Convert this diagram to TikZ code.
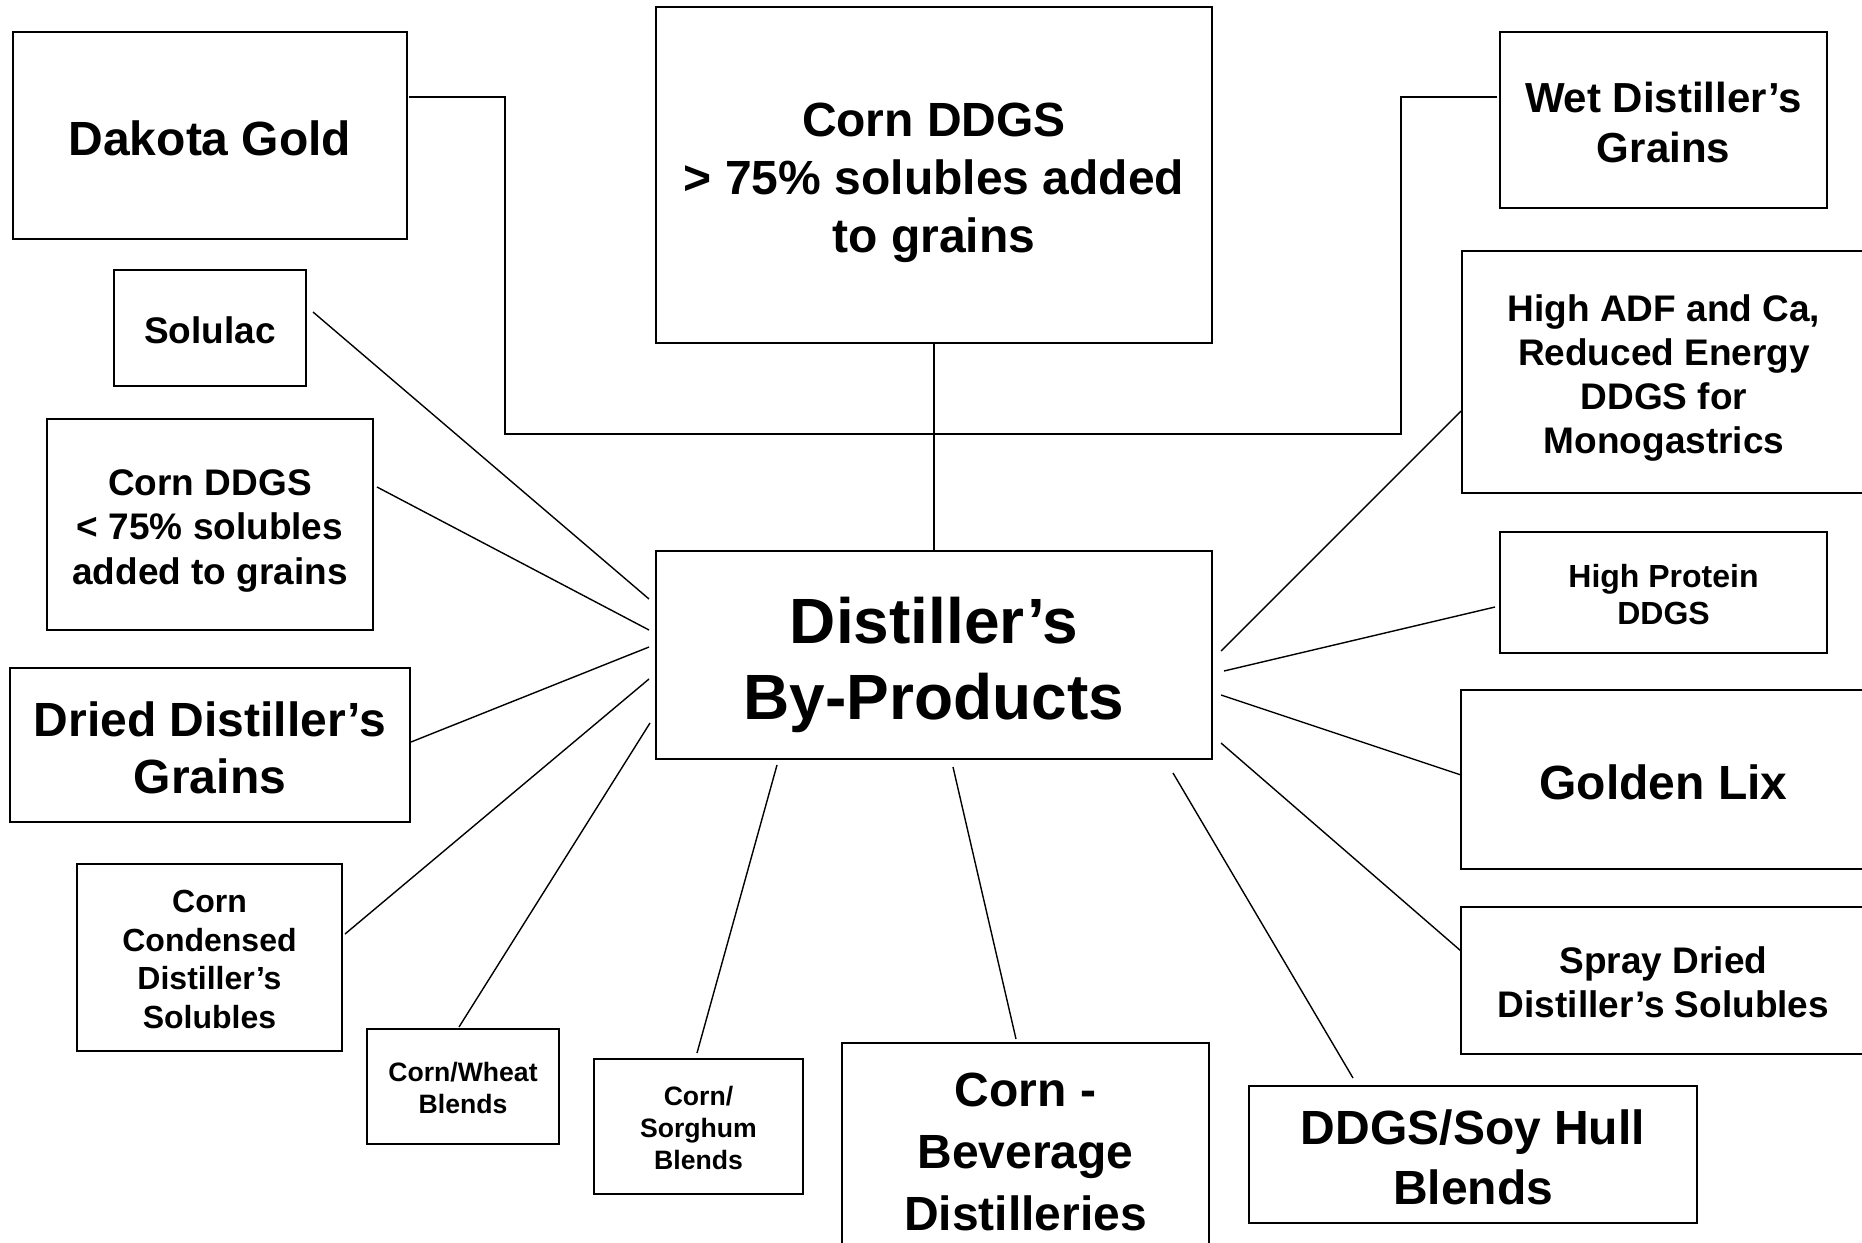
\documentclass[tikz,border=0pt]{standalone}
\usepackage{fontspec}
\setmainfont{Liberation Sans}
\newcommand\tA{\vrule height 1.03em depth 0pt width 0pt}
\newcommand\tB{\vrule height 0pt depth 0.21em width 0pt}
\begin{document}
\begin{tikzpicture}[x=0.5pt,y=-0.5pt,
  box/.style={draw, line width=1pt, rectangle, inner sep=0pt, outer sep=0pt, align=center},
  link/.style={line width=0.7pt},
  bar/.style={line width=1pt}]
\useasboundingbox (0,0) rectangle (1862,1242);
\clip (0,0) rectangle (1862,1242);
\fill[white] (0,0) rectangle (1862,1242);

% boxes
\node[box, minimum width=197pt, minimum height=103.5pt, font=\bfseries\fontsize{24pt}{29pt}\selectfont] (dakota) at (210,135.5) {\tA Dakota Gold\tB};
\node[box, minimum width=278pt, minimum height=168pt, font=\bfseries\fontsize{24pt}{29pt}\selectfont] (cddgsA) at (934,175) {\tA Corn DDGS\\> 75\% solubles added\\to grains\tB};
\node[box, minimum width=163.5pt, minimum height=88pt, font=\bfseries\fontsize{21pt}{25pt}\selectfont] (wet) at (1663.5,120) {\tA Wet Distiller’s\\Grains\tB};
\node[box, minimum width=96pt, minimum height=58pt, font=\bfseries\fontsize{18.5pt}{22pt}\selectfont] (solulac) at (210,328) {\tA Solulac\tB};
\node[box, minimum width=202pt, minimum height=121pt, font=\bfseries\fontsize{18.5pt}{22pt}\selectfont] (highadf) at (1664,372) {\tA High ADF and Ca,\\Reduced Energy\\DDGS for\\Monogastrics\tB};
\node[box, minimum width=163pt, minimum height=105.5pt, font=\bfseries\fontsize{18.5pt}{22.3pt}\selectfont] (cddgsB) at (210,524.5) {\tA Corn DDGS\\< 75\% solubles\\added to grains\tB};
\node[box, minimum width=278pt, minimum height=104pt, font=\bfseries\fontsize{32pt}{38pt}\selectfont] (cen) at (934,655) {\tA Distiller’s\\By-Products\tB};
\node[box, minimum width=163.5pt, minimum height=60.5pt, font=\bfseries\fontsize{16pt}{18.5pt}\selectfont] (hiprot) at (1663.5,592.5) {\tA High Protein\\DDGS\tB};
\node[box, minimum width=200pt, minimum height=77pt, font=\bfseries\fontsize{24pt}{28.5pt}\selectfont] (dried) at (210,745) {\tA Dried Distiller’s\\Grains\tB};
\node[box, minimum width=202.5pt, minimum height=89.5pt, font=\bfseries\fontsize{24pt}{29pt}\selectfont] (goldenlix) at (1663.5,779.5) {\tA Golden Lix\tB};
\node[box, minimum width=132.5pt, minimum height=93.5pt, font=\bfseries\fontsize{16pt}{19.25pt}\selectfont] (ccds) at (209.5,957.5) {\tA Corn\\Condensed\\Distiller’s\\Solubles\tB};
\node[box, minimum width=202.5pt, minimum height=73.5pt, font=\bfseries\fontsize{18.5pt}{22pt}\selectfont] (spray) at (1663.5,980.5) {\tA Spray Dried\\Distiller’s Solubles\tB};
\node[box, minimum width=96pt, minimum height=57.5pt, font=\bfseries\fontsize{13.3pt}{16pt}\selectfont] (cornwheat) at (463,1086.5) {\tA Corn/Wheat\\Blends\tB};
\node[box, minimum width=104.5pt, minimum height=67.5pt, font=\bfseries\fontsize{13.3pt}{16pt}\selectfont] (cornsorghum) at (698.5,1126.5) {\tA Corn/\\Sorghum\\Blends\tB};
\node[box, minimum width=183.5pt, minimum height=106pt, font=\bfseries\fontsize{24pt}{31pt}\selectfont] (cornbev) at (1025.5,1149) {\tA Corn -\\Beverage\\Distilleries\tB};
\node[box, minimum width=224pt, minimum height=68.5pt, font=\bfseries\fontsize{24pt}{30pt}\selectfont] (ddgssoy) at (1473,1154.5) {\tA DDGS/Soy Hull\\Blends\tB};

% bracket connector
\coordinate (barL) at (505,434);
\coordinate (barR) at (1401,434);
\draw[bar] ([shift={(2,-38.5)}]dakota.east) -| (barL) -- (barR) |- ([shift={(-3,-23)}]wet.west);
\draw[link] (cddgsA.south) -- (cen.north);

% spokes
\draw[link] ([shift={(7,-16)}]solulac.east) -- ([shift={(-7,-56)}]cen.west);
\draw[link] ([shift={(4,-37.5)}]cddgsB.east) -- ([shift={(-7,-25)}]cen.west);
\draw[link] ([shift={(1,-3)}]dried.east) -- ([shift={(-7,-8)}]cen.west);
\draw[link] ([shift={(3,-23.5)}]ccds.east) -- ([shift={(-7,24)}]cen.west);
\draw[link] ([shift={(-4,-2)}]cornwheat.north) -- ([shift={(-6,68)}]cen.west);
\draw[link] ([shift={(-1.5,-6)}]cornsorghum.north) -- ([shift={(121,6)}]cen.south west);
\draw[link] ([shift={(-9.5,-4)}]cornbev.north) -- ([shift={(19,8)}]cen.south);
\draw[link] ([shift={(-120,-8)}]ddgssoy.north) -- ([shift={(239,14)}]cen.south);
\draw[link] ([shift={(0,-29.5)}]spray.west) -- ([shift={(9,88)}]cen.east);
\draw[link] ([shift={(0,-4.5)}]goldenlix.west) -- ([shift={(9,40)}]cen.east);
\draw[link] ([shift={(-5,14.5)}]hiprot.west) -- ([shift={(12,16)}]cen.east);
\draw[link] ([shift={(-1,39)}]highadf.west) -- ([shift={(9,-4)}]cen.east);
\end{tikzpicture}
\end{document}
